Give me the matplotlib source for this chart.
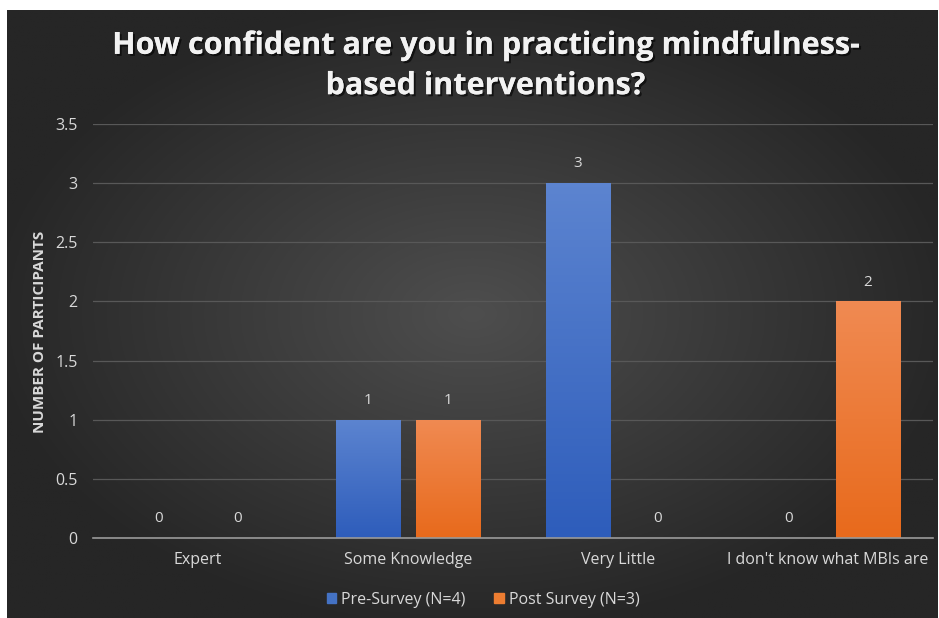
import numpy as np
import matplotlib.pyplot as plt
import matplotlib.patheffects as pe

categories = ['Expert', 'Some Knowledge', 'Very Little', "I don't know what MBIs are"]
pre_survey = [0, 1, 3, 0]
post_survey = [0, 1, 0, 2]
series_names = ['Pre-Survey (N=4)', 'Post Survey (N=3)']
yticks = [0, 0.5, 1, 1.5, 2, 2.5, 3, 3.5]

plt.rcParams['font.family'] = ['Open Sans', 'DejaVu Sans']
txt = '#d9d9d9'

fig = plt.figure(figsize=(9.39, 6.18), dpi=100, facecolor='white')

# dark radial background
bg = fig.add_axes([7/939, 0, 931/939, 608/618])
bg.axis('off')
yy, xx = np.mgrid[0:1:300j, 0:1:460j]
r = np.sqrt(((xx - 0.5) / 0.75)**2 + ((yy - 0.5) / 0.75)**2)
r = np.clip(r / 0.7, 0, 1)
c0 = np.array([0x4e, 0x4e, 0x4e]) / 255
c1 = np.array([0x26, 0x26, 0x26]) / 255
img = c0[None, None, :] * (1 - r[..., None]) + c1[None, None, :] * r[..., None]
bg.imshow(img, aspect='auto', extent=[0, 1, 0, 1])
bg.set_xlim(0, 1)
bg.set_ylim(0, 1)

ax = fig.add_axes([93/939, 1 - 538/618, 840/939, (538 - 124)/618])
ax.patch.set_alpha(0)

x = np.arange(len(categories))
w = 0.308
off = 0.19

def grad_bar(xc, h, top, bottom):
    if h <= 0:
        return
    bar = ax.bar(xc, h, w, color='none', zorder=3)[0]
    g = np.linspace(0, 1, 100)[:, None, None]
    col = np.array(top)[None, None, :] * (1 - g) + np.array(bottom)[None, None, :] * g
    im = ax.imshow(col, aspect='auto', extent=[xc - w/2, xc + w/2, 0, h], zorder=3)
    im.set_clip_path(bar)

blue_top = np.array([0x5c, 0x84, 0xd0]) / 255
blue_bot = np.array([0x2e, 0x5d, 0xbb]) / 255
org_top = np.array([0xf0, 0x8a, 0x52]) / 255
org_bot = np.array([0xe8, 0x6a, 0x1c]) / 255

for i in range(len(categories)):
    grad_bar(x[i] - off, pre_survey[i], blue_top, blue_bot)
    grad_bar(x[i] + off, post_survey[i], org_top, org_bot)
    ax.text(x[i] - off, pre_survey[i] + 0.1, str(pre_survey[i]), ha='center', va='bottom',
            color=txt, fontsize=11)
    ax.text(x[i] + off, post_survey[i] + 0.1, str(post_survey[i]), ha='center', va='bottom',
            color=txt, fontsize=11)

ax.set_xlim(-0.5, len(categories) - 0.5)
ax.set_ylim(0, 3.5)
ax.set_yticks(yticks)
ax.set_yticklabels(['0', '0.5', '1', '1.5', '2', '2.5', '3', '3.5'])
ax.set_xticks(x)
ax.set_xticklabels(categories)
ax.tick_params(axis='both', length=0, colors=txt, labelsize=11.5)
ax.tick_params(axis='y', pad=11)
ax.tick_params(axis='x', pad=10)
ax.grid(axis='y', color='#585858', linewidth=0.9, zorder=0)
for s in ['top', 'right', 'left']:
    ax.spines[s].set_visible(False)
ax.spines['bottom'].set_color('#9a9a9a')
ax.spines['bottom'].set_linewidth(1.2)
ax.spines['bottom'].set_zorder(4)

fig.text(40/939, 1 - 332/618, 'NUMBER OF PARTICIPANTS', rotation=90, ha='center', va='center',
         color=txt, fontsize=11, fontweight='bold')

fig.text(485/939, 1 - 66/618, 'How confident are you in practicing mindfulness-\nbased interventions?',
         ha='center', va='center', color='#f2f2f2', fontsize=22, fontweight='bold',
         linespacing=1.45,
         path_effects=[pe.withSimplePatchShadow(offset=(1.5, -1.5), shadow_rgbFace='black', alpha=0.6),
                       pe.Normal()])

handles = [plt.Rectangle((0, 0), 1, 1, color='#4472c4'), plt.Rectangle((0, 0), 1, 1, color='#ed7d31')]
fig.legend(handles, series_names, loc='center', bbox_to_anchor=(483/939, 1 - 600/618), ncol=2,
           frameon=False, fontsize=11.5, labelcolor=txt, handlelength=0.6, handleheight=0.6,
           handletextpad=0.3, columnspacing=1.8)

plt.savefig('out.png', dpi=100, facecolor='white')
